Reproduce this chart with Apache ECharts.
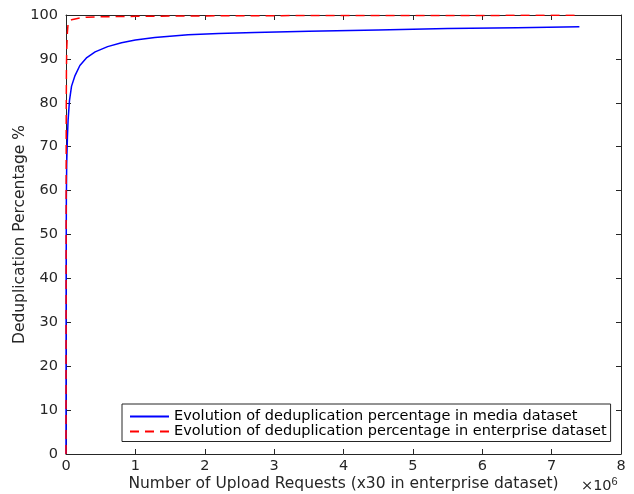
<!DOCTYPE html>
<html><head><meta charset="utf-8">
<script src="https://cdn.jsdelivr.net/npm/echarts@6/dist/echarts.min.js"></script>
<style>html,body{margin:0;padding:0;background:#fff}#c{width:634px;height:494px}</style>
</head><body><div id="c"></div>
<script>
// x in millions of upload requests
const mediaX = [0, 0.002, 0.005, 0.01, 0.02, 0.03, 0.05, 0.08, 0.13, 0.2, 0.3, 0.42, 0.6, 0.8, 1.0, 1.28, 1.76, 2.2, 2.72, 3.5, 4.5, 5.5, 6.5, 7.4];
const mediaY = [0, 40, 58, 66, 72, 76, 80.5, 83.8, 86.2, 88.5, 90.3, 91.6, 92.8, 93.7, 94.3, 94.9, 95.5, 95.8, 96.0, 96.3, 96.6, 96.9, 97.1, 97.3];
const entX = [0, 0.003, 0.006, 0.01, 0.02, 0.03, 0.05, 0.08, 0.13, 0.2, 0.3, 0.5, 1.0, 2, 3, 4, 5, 6, 7, 7.4];
const entY = [0, 75, 87, 92, 96, 98.0, 98.6, 98.9, 99.1, 99.3, 99.5, 99.6, 99.7, 99.8, 99.85, 99.9, 99.9, 99.9, 99.95, 99.95];
const xTicks = [0,1,2,3,4,5,6,7,8];
const yTicks = [0,10,20,30,40,50,60,70,80,90,100];
const seriesNames = ['Evolution of deduplication percentage in media dataset','Evolution of deduplication percentage in enterprise dataset'];

const axisCol = '#262626';
const font = 'DejaVu Sans, Liberation Sans, Arial, sans-serif';
const zip = (a,b)=>a.map((v,i)=>[v,b[i]]);
const tick = {show:true,inside:true,length:5,lineStyle:{color:axisCol}};
const line = {show:true,onZero:false,lineStyle:{color:axisCol,width:1}};
const chart = echarts.init(document.getElementById('c'));
chart.setOption({
  animation:false,
  backgroundColor:'#fff',
  textStyle:{fontFamily:font},
  grid:{left:66,right:13,top:15,bottom:40,containLabel:false,outerBoundsMode:'none'},
  legend:{
    data:seriesNames.map(n=>({name:n,itemStyle:{opacity:0}})),
    orient:'vertical', left:122, top:404,
    padding:[5,4,2.5,7], itemGap:0, itemWidth:39, itemHeight:14,
    backgroundColor:'#fff', borderColor:axisCol, borderWidth:1, borderRadius:0,
    textStyle:{fontSize:14.5,lineHeight:14,color:'#000',fontFamily:font}
  },
  xAxis:[{
    type:'value', min:0, max:8, interval:1, position:'bottom',
    name:'Number of Upload Requests (x30 in enterprise dataset)', nameLocation:'middle', nameGap:22, nameMoveOverlap:false,
    nameTextStyle:{fontSize:15.5,color:axisCol,fontFamily:font},
    axisLine:line, axisTick:tick,
    axisLabel:{fontSize:14.5,color:axisCol,margin:5,fontFamily:font,formatter:v=>xTicks.includes(v)?String(v):''},
    splitLine:{show:false}
  },{
    type:'value', min:0, max:8, interval:1, position:'top',
    axisLine:line, axisTick:tick,
    axisLabel:{show:false}, splitLine:{show:false}
  }],
  yAxis:[{
    type:'value', min:0, max:100, interval:10, position:'left',
    name:'Deduplication Percentage %', nameLocation:'middle', nameGap:38, nameRotate:90, nameMoveOverlap:false,
    nameTextStyle:{fontSize:15.5,color:axisCol,fontFamily:font},
    axisLine:line, axisTick:tick,
    axisLabel:{fontSize:14.5,color:axisCol,margin:8,fontFamily:font,formatter:v=>yTicks.includes(v)?String(v):''},
    splitLine:{show:false}
  },{
    type:'value', min:0, max:100, interval:10, position:'right',
    axisLine:line, axisTick:tick,
    axisLabel:{show:false}, splitLine:{show:false}
  }],
  series:[{
    name:seriesNames[0], type:'line', data:zip(mediaX,mediaY), smooth:false,
    symbol:'none', lineStyle:{color:'#0000ff',width:1.5}, itemStyle:{color:'#0000ff'}
  },{
    name:seriesNames[1], type:'line', data:zip(entX,entY), smooth:false,
    symbol:'none', lineStyle:{color:'#ff0000',width:1.5,type:[9,6]}, itemStyle:{color:'#ff0000'}
  }],
  graphic:[{
    type:'text', left:581, top:476,
    style:{text:'×10{s|6}', fill:axisCol, font:'14.5px '+font,
      rich:{s:{fontSize:11,verticalAlign:'top',padding:[0,0,10,0],fill:axisCol}}}
  }]
});
</script></body></html>
